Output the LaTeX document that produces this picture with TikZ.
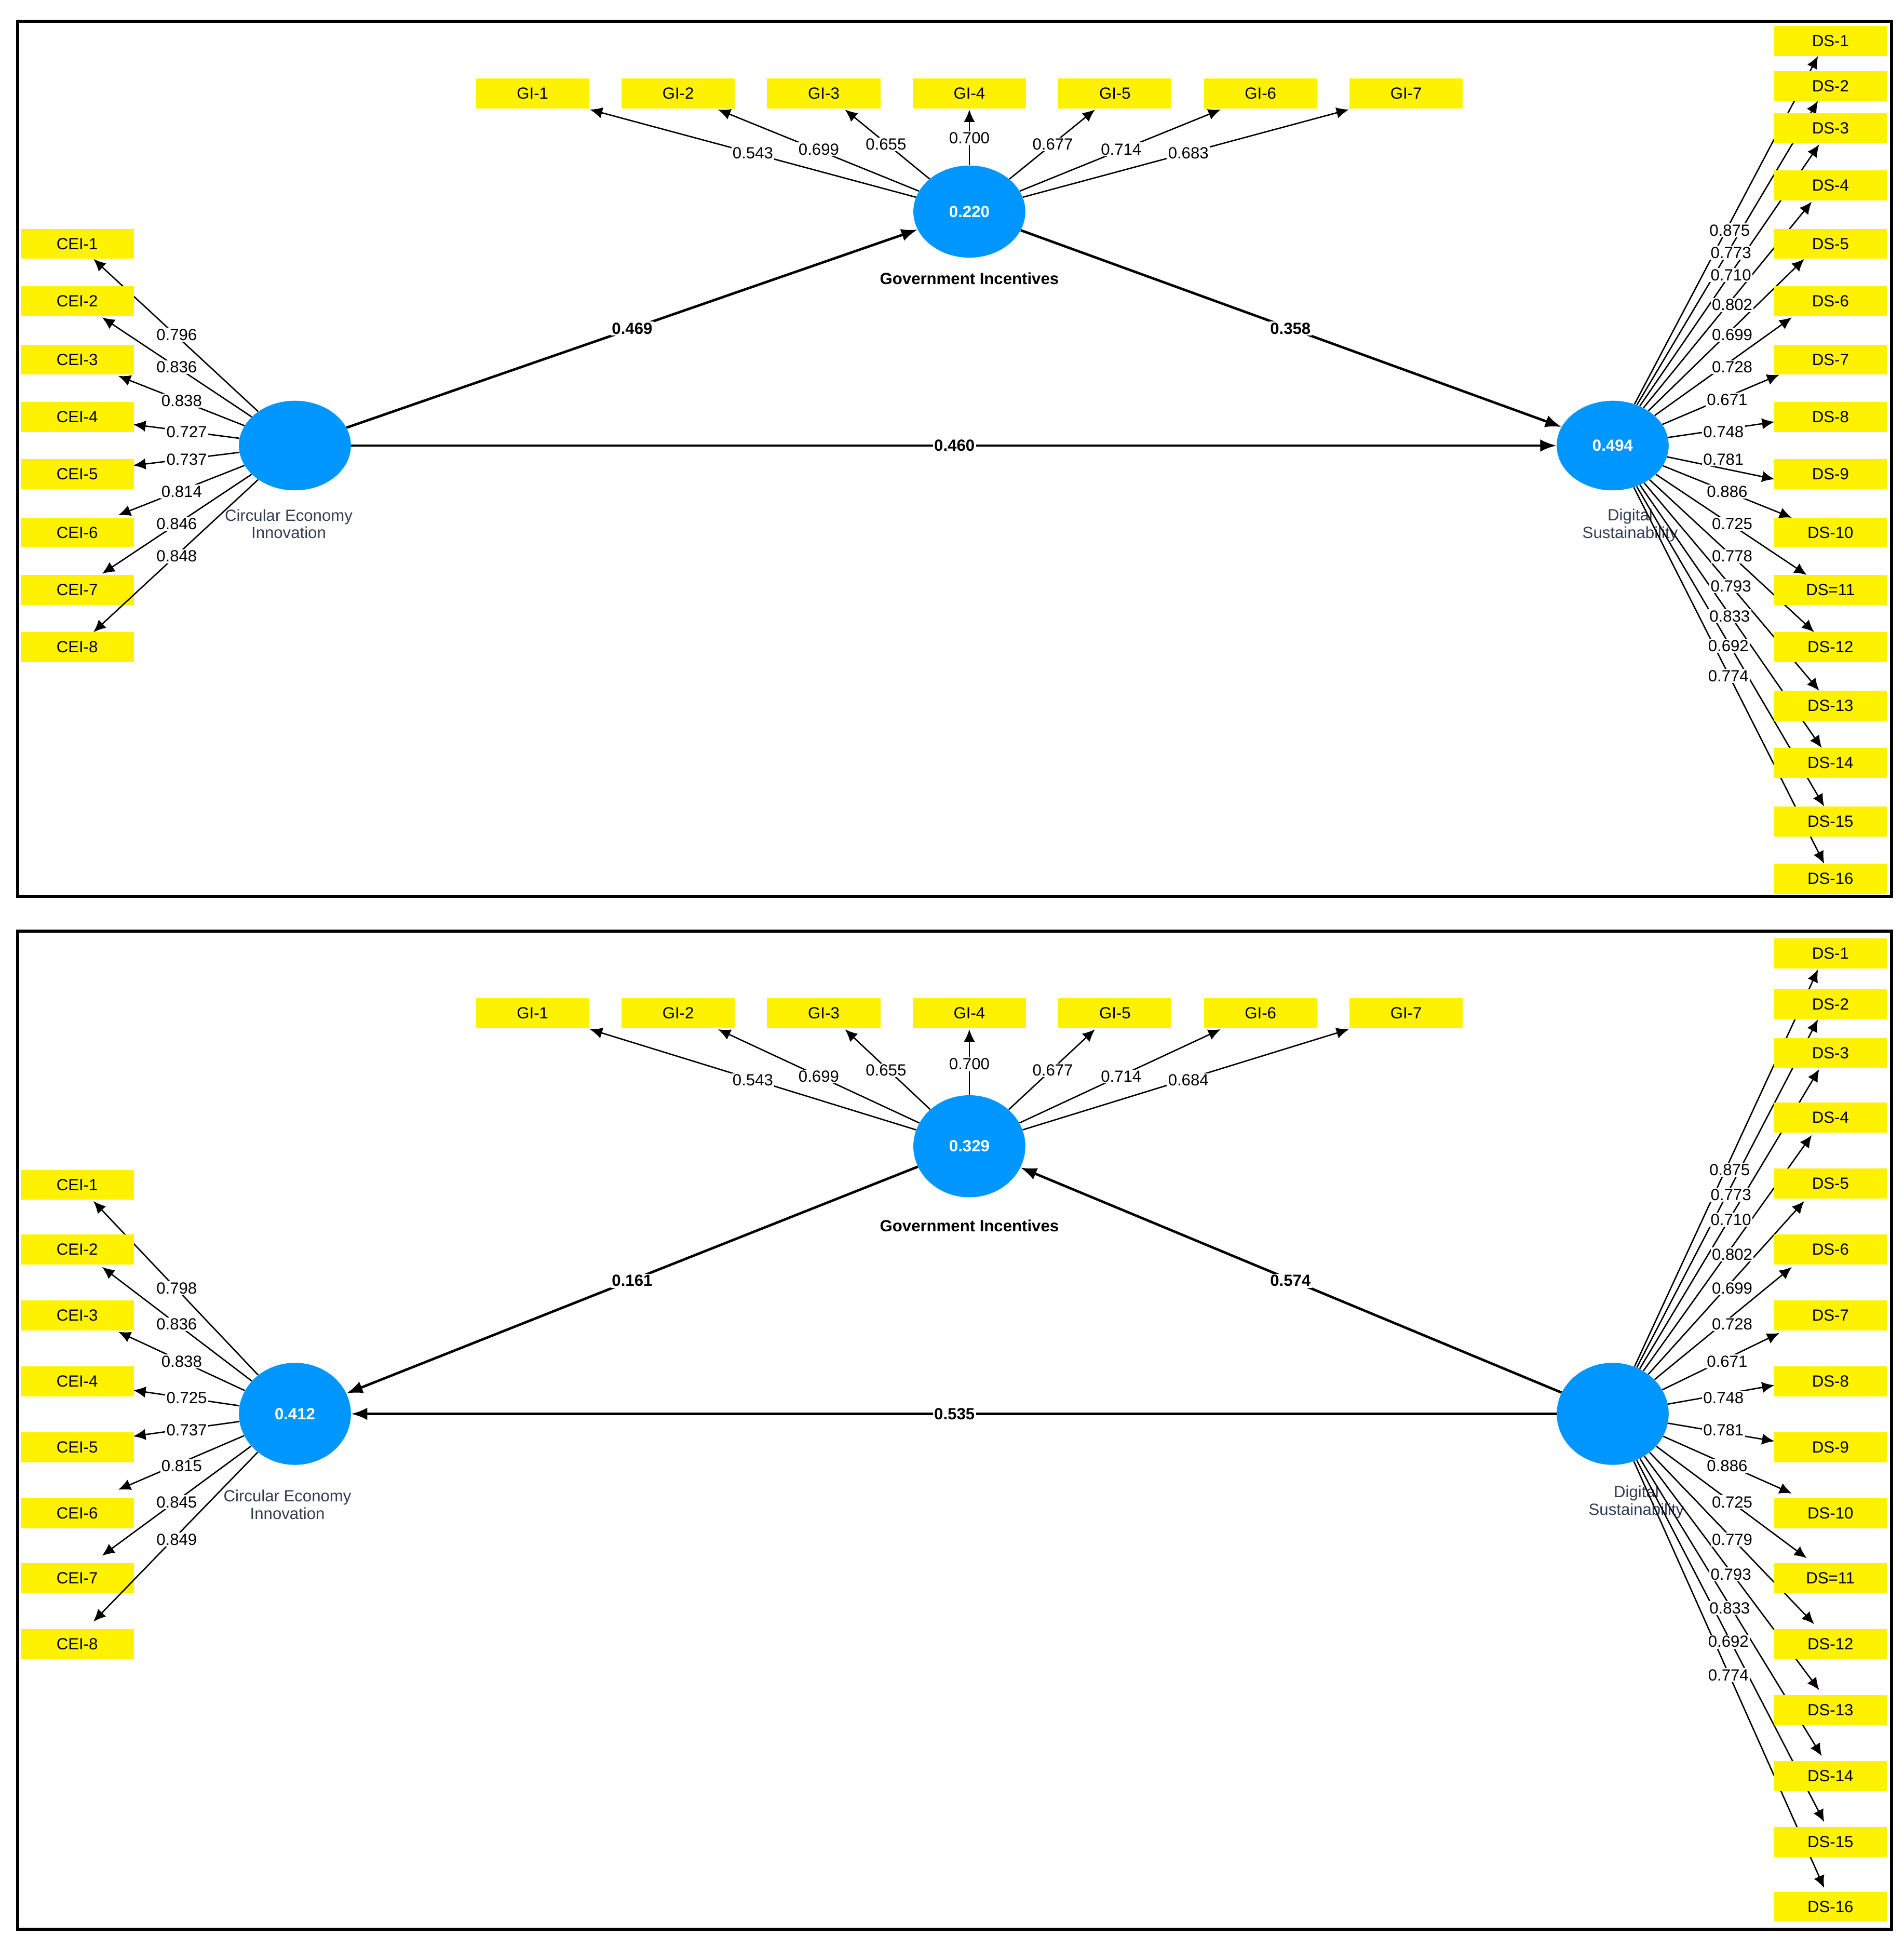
\documentclass[tikz,border=0pt]{standalone}
\usepackage{fontspec}
\setmainfont{Liberation Sans}
\usetikzlibrary{arrows.meta,shapes.geometric}
\definecolor{lv}{RGB}{0,150,255}
\definecolor{lbl}{RGB}{50,60,80}
\begin{document}
\begin{tikzpicture}[x=1pt,y=-1pt,
  box/.style={fill=yellow,minimum width=91pt,minimum height=24pt,inner sep=0pt,font=\fontsize{13}{15}\selectfont},
  lvn/.style={ellipse,fill=lv,minimum width=90pt,minimum height=#1,inner sep=0pt,text=white,font=\bfseries\fontsize{13}{15}\selectfont},
  ld/.style={line width=1.1pt,-{Latex[length=10pt,width=9pt]}},
  st/.style={line width=2pt,-{Latex[length=13pt,width=10pt]}},
  num/.style={fill=white,inner sep=1pt,font=\fontsize{13}{15}\selectfont},
  snum/.style={fill=white,inner sep=1pt,font=\bfseries\fontsize{13}{15}\selectfont},
  lvcap/.style={align=center,text=lbl,font=\fontsize{13}{14}\selectfont}]
\useasboundingbox (0,0) rectangle (1530,1566);
\draw[line width=2.5pt] (14,17) rectangle (1520,720);
\draw[line width=2.5pt] (14,748) rectangle (1520,1550);
% ================= TOP PANEL =================
\node[lvn=74pt] (gi) at (779,170) {0.220};
\node[lvn=72pt] (cei) at (237,358) {};
\node[lvn=72pt] (ds) at (1296,358) {0.494};
\node[font=\bfseries\fontsize{13}{15}\selectfont] (gil) at (779,224) {Government Incentives};
\node[lvcap] (ceil) at (232,421) {Circular Economy\\Innovation};
\node[lvcap] (dsl) at (1310,422) {Digital\\Sustainability};
\foreach \i/\tx/\lx/\ly/\v in {1/474/605/123/0.543,2/577/658/120/0.699,3/679/712/116/0.655,4/779/779/111/0.700,5/880/846/116/0.677,6/981/901/120/0.714,7/1084/955/123/0.683}{
  \coordinate (gt\i) at (\tx,88);
  \draw[ld] (gi) -- (gt\i);
  \node[num] (gn\i) at (\lx,\ly) {\v};
  \node[box] (gb\i) at ({428+117*(\i-1)},75) {GI-\i};
}
\foreach \i/\y/\tx/\ty in {1/196/75/208,2/242/82/255,3/289/95/302,4/335/107/341,5/381/107/374,6/428/95/414,7/474/82/461,8/520/75/508}{
  \coordinate (ct\i) at (\tx,\ty);
  \draw[ld] (cei) -- (ct\i);
  \node[box] (cb\i) at (62,\y) {CEI-\i};
}
\foreach \i/\lx/\ly/\v in {1/142/269/0.796,2/142/295/0.836,3/146/322/0.838,4/150/347/0.727,5/150/369/0.737,6/146/395/0.814,7/142/421/0.846,8/142/447/0.848}{
  \node[num] (cn\i) at (\lx,\ly) {\v};
}
\foreach \i/\tx/\ty in {1/1461/45,2/1461/81,3/1462/116,4/1456/162,5/1450/208,6/1440/255,7/1430/301,8/1426/339,9/1426/385,10/1440/416,11/1452/462,12/1458/508,13/1462/555,14/1464/601,15/1466/648,16/1466/694}{
  \coordinate (dt\i) at (\tx,\ty);
  \draw[ld] (ds) -- (dt\i);
}
\foreach \i/\y/\t in {1/33/DS-1,2/69/DS-2,3/103/DS-3,4/149/DS-4,5/196/DS-5,6/242/DS-6,7/289/DS-7,8/335/DS-8,9/381/DS-9,10/428/DS-10,11/474/DS=11,12/520/DS-12,13/567/DS-13,14/613/DS-14,15/660/DS-15,16/706/DS-16}{
  \node[box] (db\i) at (1471,\y) {\t};
}
\foreach \i/\lx/\ly/\v in {1/1390/185/0.875,2/1391/203/0.773,3/1391/221/0.710,4/1392/245/0.802,5/1392/269/0.699,6/1392/295/0.728,7/1388/321/0.671,8/1385/347/0.748,9/1385/369/0.781,10/1388/395/0.886,11/1392/421/0.725,12/1392/447/0.778,13/1391/471/0.793,14/1390/495/0.833,15/1389/519/0.692,16/1389/543/0.774}{
  \node[num] (dn\i) at (\lx,\ly) {\v};
}
\draw[st] (cei) -- (gi);
\draw[st] (gi) -- (ds);
\draw[st] (cei) -- (ds);
\node[snum] (p1) at (508,264) {0.469};
\node[snum] (p2) at (1037,264) {0.358};
\node[snum] (p3) at (767,358) {0.460};
% ================= BOTTOM PANEL =================
\node[lvn=82pt] (gi2) at (779,921) {0.329};
\node[lvn=82pt] (cei2) at (237,1136) {0.412};
\node[lvn=82pt] (ds2) at (1296,1136) {};
\node[font=\bfseries\fontsize{13}{15}\selectfont] (gil2) at (779,985) {Government Incentives};
\node[lvcap] (ceil2) at (231,1209) {Circular Economy\\Innovation};
\node[lvcap] (dsl2) at (1315,1207) {Digital\\Sustainability};
\foreach \i/\tx/\lx/\ly/\v in {1/474/605/868/0.543,2/577/658/865/0.699,3/679/712/860/0.655,4/779/779/855/0.700,5/880/846/860/0.677,6/981/901/865/0.714,7/1084/955/868/0.684}{
  \coordinate (gu\i) at (\tx,827);
  \draw[ld] (gi2) -- (gu\i);
  \node[num] (gm\i) at (\lx,\ly) {\v};
  \node[box] (gc\i) at ({428+117*(\i-1)},814) {GI-\i};
}
\foreach \i/\y/\tx/\ty in {1/952/75/965,2/1004/82/1018,3/1057/95/1070,4/1110/107/1117,5/1163/107/1154,6/1216/95/1197,7/1268/82/1250,8/1321/75/1303}{
  \coordinate (cu\i) at (\tx,\ty);
  \draw[ld] (cei2) -- (cu\i);
  \node[box] (cc\i) at (62,\y) {CEI-\i};
}
\foreach \i/\lx/\ly/\v in {1/142/1035/0.798,2/142/1064/0.836,3/146/1094/0.838,4/150/1123/0.725,5/150/1149/0.737,6/146/1178/0.815,7/142/1207/0.845,8/142/1237/0.849}{
  \node[num] (cm\i) at (\lx,\ly) {\v};
}
\foreach \i/\tx/\ty in {1/1461/779,2/1461/819,3/1462/859,4/1456/912,5/1450/965,6/1440/1018,7/1430/1071,8/1426/1113,9/1426/1158,10/1440/1200,11/1452/1252,12/1458/1305,13/1462/1358,14/1464/1411,15/1466/1464,16/1466/1517}{
  \coordinate (du\i) at (\tx,\ty);
  \draw[ld] (ds2) -- (du\i);
}
\foreach \i/\y/\t in {1/766/DS-1,2/807/DS-2,3/846/DS-3,4/898/DS-4,5/951/DS-5,6/1004/DS-6,7/1057/DS-7,8/1110/DS-8,9/1163/DS-9,10/1216/DS-10,11/1268/DS=11,12/1321/DS-12,13/1374/DS-13,14/1427/DS-14,15/1480/DS-15,16/1532/DS-16}{
  \node[box] (dc\i) at (1471,\y) {\t};
}
\foreach \i/\lx/\ly/\v in {1/1390/940/0.875,2/1391/960/0.773,3/1391/980/0.710,4/1392/1008/0.802,5/1392/1035/0.699,6/1392/1064/0.728,7/1388/1094/0.671,8/1385/1123/0.748,9/1385/1149/0.781,10/1388/1178/0.886,11/1392/1207/0.725,12/1392/1237/0.779,13/1391/1265/0.793,14/1390/1292/0.833,15/1389/1319/0.692,16/1389/1346/0.774}{
  \node[num] (dm\i) at (\lx,\ly) {\v};
}
\draw[st] (gi2) -- (cei2);
\draw[st] (ds2) -- (gi2);
\draw[st] (ds2) -- (cei2);
\node[snum] (q1) at (508,1029) {0.161};
\node[snum] (q2) at (1037,1029) {0.574};
\node[snum] (q3) at (767,1136) {0.535};
\end{tikzpicture}
\end{document}
